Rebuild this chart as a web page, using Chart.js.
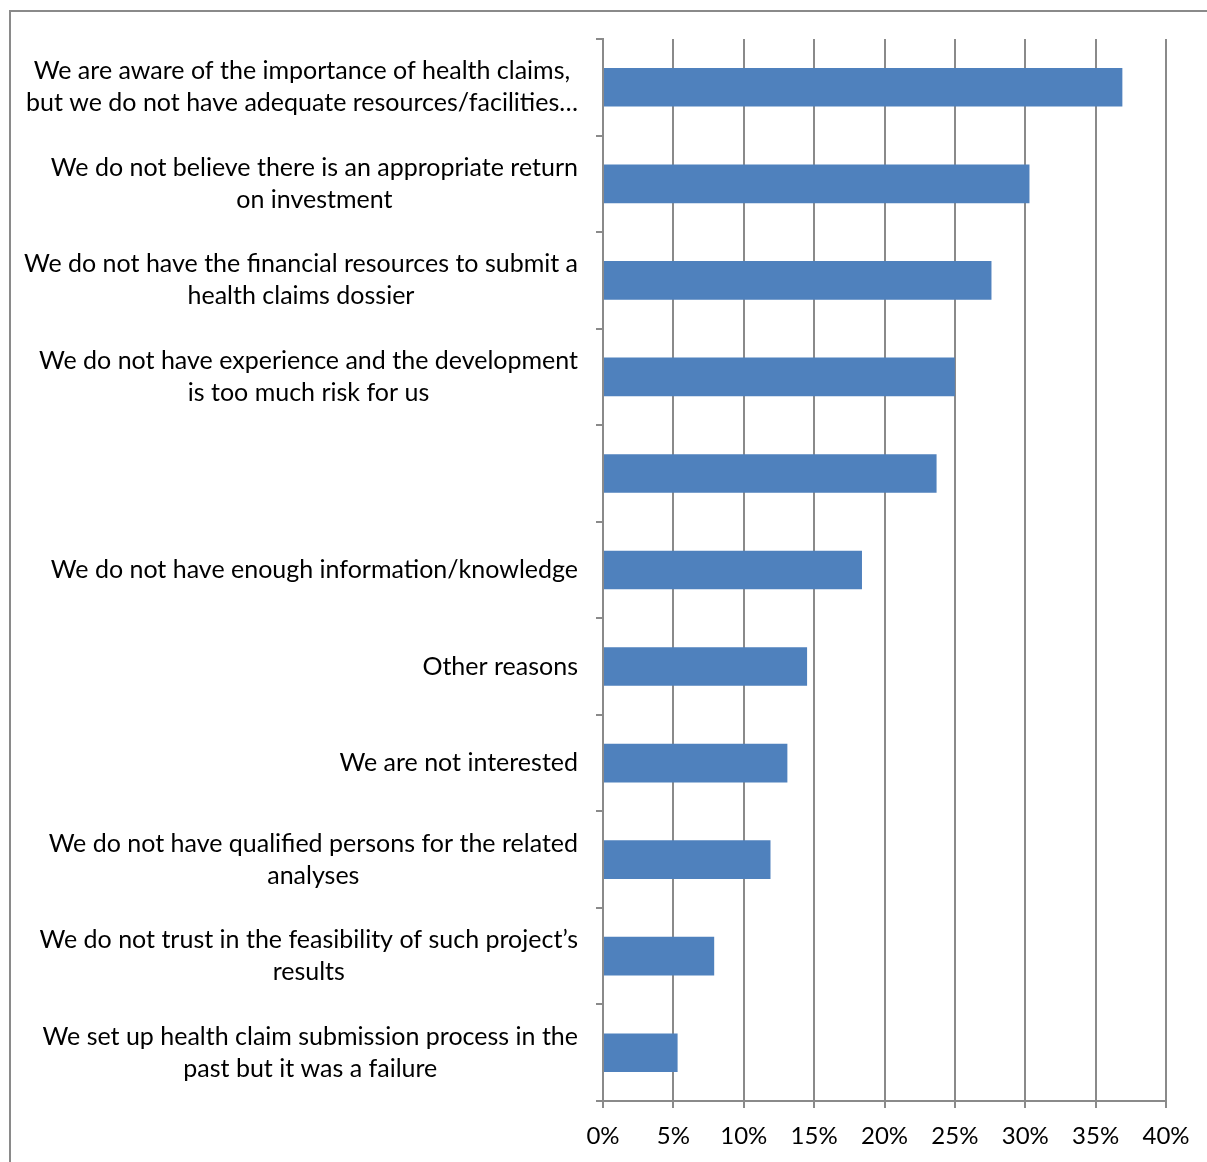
<!DOCTYPE html>
<html>
<head>
<meta charset="utf-8">
<script src="https://cdn.jsdelivr.net/npm/chart.js@4.4.1/dist/chart.umd.min.js"></script>
<style>
  html, body { margin: 0; padding: 0; background: #fff; }
  #wrap { position: relative; width: 1207px; height: 1162px; }
  #frame { position: absolute; left: 9px; top: 10px; right: -2px; bottom: -2px;
           border-top: 2px solid #8a8a8a; border-left: 2px solid #8a8a8a; }
  canvas { position: absolute; left: 0; top: 0; }
</style>
</head>
<body>
<div id="wrap">
  <div id="frame"></div>
  <canvas id="barChart" width="1207" height="1162"></canvas>
</div>
<script>
// category labels, one array of lines per bar
const categories = [
    ['We are aware of the importance of health claims,', 'but we do not have adequate resources/facilities\u2026'],
    ['We do not believe there is an appropriate return', 'on investment'],
    ['We do not have the financial resources to submit a', 'health claims dossier'],
    ['We do not have experience and the development', 'is too much risk for us'],
    [''],
    ['We do not have enough information/knowledge'],
    ['Other reasons'],
    ['We are not interested'],
    ['We do not have qualified persons for the related', 'analyses'],
    ['We do not trust in the feasibility of such project\u2019s', 'results'],
    ['We set up health claim submission process in the', 'past but it was a failure']
];
const shares = [36.9, 30.3, 27.6, 25.0, 23.7, 18.4, 14.5, 13.1, 11.9, 7.9, 5.3];
const xTicks = [0, 5, 10, 15, 20, 25, 30, 35, 40];

const labelFont = '25px Lato, "Open Sans", sans-serif';

// draws the wrapped category labels, right aligned as a block, lines centred
const labelPlugin = {
    id: 'catLabels',
    afterDraw(chart) {
        const ctx = chart.ctx;
        const yScale = chart.scales.y;
        const right = chart.chartArea.left - 25;
        ctx.save();
        ctx.font = labelFont;
        ctx.fillStyle = '#000';
        ctx.textAlign = 'center';
        ctx.textBaseline = 'middle';
        categories.forEach((lines, i) => {
            const y = yScale.getPixelForValue(i);
            const widest = Math.max(...lines.map(l => ctx.measureText(l).width));
            const cx = right - widest / 2;
            lines.forEach((line, j) => {
                ctx.fillText(line, cx, y + (j - (lines.length - 1) / 2) * 32);
            });
        });
        ctx.restore();
    }
};

new Chart(document.getElementById('barChart'), {
    type: 'bar',
    data: {
        labels: categories,
        datasets: [{
            data: shares,
            backgroundColor: '#4f81bd',
            borderWidth: 0,
            categoryPercentage: 1,
            barPercentage: 0.4
        }]
    },
    options: {
        indexAxis: 'y',
        responsive: false,
        animation: false,
        layout: { padding: { top: 39, right: 41, left: 0, bottom: 0 } },
        plugins: { legend: { display: false }, tooltip: { enabled: false } },
        scales: {
            x: {
                min: 0,
                max: 40,
                afterBuildTicks(scale) {
                    scale.ticks = xTicks.map(v => ({ value: v }));
                },
                afterFit(scale) { scale.height = 61; },
                ticks: {
                    callback: v => v + '%',
                    color: '#000',
                    font: { family: 'Lato, "Open Sans", sans-serif', size: 24 },
                    padding: 14,
                    maxRotation: 0
                },
                grid: { color: '#8a8a8a', lineWidth: 2, tickLength: 7 },
                border: { color: '#8a8a8a', width: 2 }
            },
            y: {
                afterFit(scale) { scale.width = 603; },
                ticks: { callback: () => '' },
                grid: { drawOnChartArea: false, color: '#8a8a8a', lineWidth: 2, tickLength: 7, offset: true },
                border: { color: '#8a8a8a', width: 2 }
            }
        }
    },
    plugins: [labelPlugin]
});
</script>
</body>
</html>
